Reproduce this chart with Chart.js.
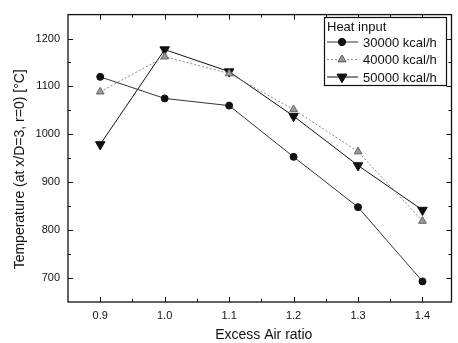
<!DOCTYPE html>
<html>
<head>
<meta charset="utf-8">
<script src="https://cdn.jsdelivr.net/npm/chart.js@4/dist/chart.umd.min.js"></script>
<style>
  html, body { margin: 0; padding: 0; background: #fff; }
  #wrap { width: 458px; height: 343px; }
</style>
</head>
<body>
<div id="wrap"><canvas id="chart"></canvas></div>
<script>
// excess air ratio and centreline temperature (deg C)
const airRatio = [0.9, 1.0, 1.1, 1.2, 1.3, 1.4];
const temp30000 = [1120, 1075, 1060, 953, 848, 693];
const temp40000 = [1089, 1162, 1127, 1052, 964, 819];
const temp50000 = [979, 1177, 1131, 1038, 935, 842];
const seriesNames = ["30000 kcal/h", "40000 kcal/h", "50000 kcal/h"];
const xTicks = [0.9, 1.0, 1.1, 1.2, 1.3, 1.4];
const yTicks = [700, 800, 900, 1000, 1100, 1200];
const xTitle = "Excess Air ratio";
const yTitle = "Temperature (at x/D=3, r=0) [°C]";

function pts(ys){
    return airRatio.map((x, i) => ({x: x, y: ys[i]}));
}

const font = "Liberation Sans, Arial, sans-serif";

// ticks drawn inside the frame on all four sides, plus the frame itself
const frameTicks = {
    id: "frameTicks",
    afterDraw(chart){
        const c = chart.ctx, a = chart.chartArea;
        const xs = chart.scales.x, ys = chart.scales.y;
        c.save();
        c.strokeStyle = "#111";
        c.lineWidth = 1.3;
        c.strokeRect(a.left, a.top, a.right - a.left, a.bottom - a.top);
        c.lineWidth = 1;
        c.beginPath();
        for (let v = 0.85; v <= 1.45; v += 0.05){
            const major = Math.abs(Math.round(v * 10) - v * 10) < 0.01;
            const len = major ? 5 : 3;
            const px = Math.round(xs.getPixelForValue(v)) + 0.5;
            if (px <= a.left + 1 || px >= a.right - 1) continue;
            c.moveTo(px, a.bottom); c.lineTo(px, a.bottom - len);
            c.moveTo(px, a.top); c.lineTo(px, a.top + len);
        }
        for (let v = 650; v <= 1250; v += 50){
            const len = v % 100 === 0 ? 5 : 3;
            const py = Math.round(ys.getPixelForValue(v)) + 0.5;
            if (py <= a.top + 1 || py >= a.bottom - 1) continue;
            c.moveTo(a.left, py); c.lineTo(a.left + len, py);
            c.moveTo(a.right, py); c.lineTo(a.right - len, py);
        }
        c.stroke();

        // axis titles
        c.fillStyle = "#111";
        c.font = "14px " + font;
        c.textAlign = "center";
        c.textBaseline = "middle";
        c.fillText(xTitle, (a.left + a.right) / 2 + 4, 335);
        c.translate(20, (a.top + a.bottom) / 2 + 11);
        c.rotate(-Math.PI / 2);
        c.fillText(yTitle, 0, 0);
        c.restore();
    }
};

// boxed legend with a title, placed in the upper right of the plot
const boxLegend = {
    id: "boxLegend",
    afterDraw(chart){
        const c = chart.ctx;
        const bx = 324, by = 17, bw = 122, bh = 68;
        c.save();
        c.fillStyle = "#fff";
        c.fillRect(bx, by, bw, bh);
        c.strokeStyle = "#111";
        c.lineWidth = 1.2;
        c.strokeRect(bx + 0.5, by + 0.5, bw, bh);
        c.fillStyle = "#111";
        c.font = "13px " + font;
        c.textBaseline = "middle";
        c.fillText("Heat input", bx + 3, by + 10);
        chart.data.datasets.forEach((ds, i) => {
            const yy = by + 25 + i * 17.5;
            c.strokeStyle = ds.borderColor;
            c.lineWidth = 1;
            c.setLineDash(ds.borderDash || []);
            c.beginPath(); c.moveTo(bx + 3, yy); c.lineTo(bx + 34, yy); c.stroke();
            c.setLineDash([]);
            Chart.helpers.drawPoint(c, {
                pointStyle: ds.pointStyle, radius: ds.pointRadius,
                rotation: ds.rotation || 0, borderWidth: 1
            }, bx + 18, yy);
            c.fillStyle = ds.pointBackgroundColor;
            c.strokeStyle = ds.pointBorderColor;
            c.fill(); c.stroke();
            c.fillStyle = "#111";
            c.fillText(ds.label, bx + 39, yy + 1);
        });
        c.restore();
    }
};

new Chart(document.getElementById("chart"), {
    type: "line",
    data: {
        datasets: [
            {label: seriesNames[0], data: pts(temp30000), borderColor: "#333", borderWidth: 1,
             pointStyle: "circle", pointRadius: 3.5, pointBackgroundColor: "#111", pointBorderColor: "#111"},
            {label: seriesNames[1], data: pts(temp40000), borderColor: "#888", borderWidth: 1, borderDash: [2, 2],
             pointStyle: "triangle", pointRadius: 4.5, pointBackgroundColor: "#999", pointBorderColor: "#666"},
            {label: seriesNames[2], data: pts(temp50000), borderColor: "#111", borderWidth: 1,
             pointStyle: "triangle", rotation: 180, pointRadius: 5.5, pointBackgroundColor: "#111", pointBorderColor: "#111"}
        ]
    },
    options: {
        responsive: true,
        maintainAspectRatio: false,
        animation: false,
        devicePixelRatio: 1,
        layout: {padding: {left: 0, right: 1, top: 11, bottom: 0}},
        plugins: {legend: {display: false}, tooltip: {enabled: false}},
        elements: {line: {tension: 0}, point: {pointBorderWidth: 1}},
        scales: {
            x: {
                type: "linear", min: 0.85, max: 1.445,
                afterBuildTicks: s => { s.ticks = xTicks.map(v => ({value: v})); },
                afterFit: s => { s.height = 41; },
                grid: {display: false, drawTicks: false},
                border: {display: false},
                ticks: {padding: 7, color: "#111", font: {family: font, size: 11},
                        callback: v => v.toFixed(1)},
                title: {display: false}
            },
            y: {
                min: 650, max: 1250,
                afterBuildTicks: s => { s.ticks = yTicks.map(v => ({value: v})); },
                afterFit: s => { s.width = 68; },
                grid: {display: false, drawTicks: false},
                border: {display: false},
                ticks: {padding: 8, color: "#111", font: {family: font, size: 11},
                        callback: v => String(v)},
                title: {display: false}
            }
        }
    },
    plugins: [frameTicks, boxLegend]
});
</script>
</body>
</html>
